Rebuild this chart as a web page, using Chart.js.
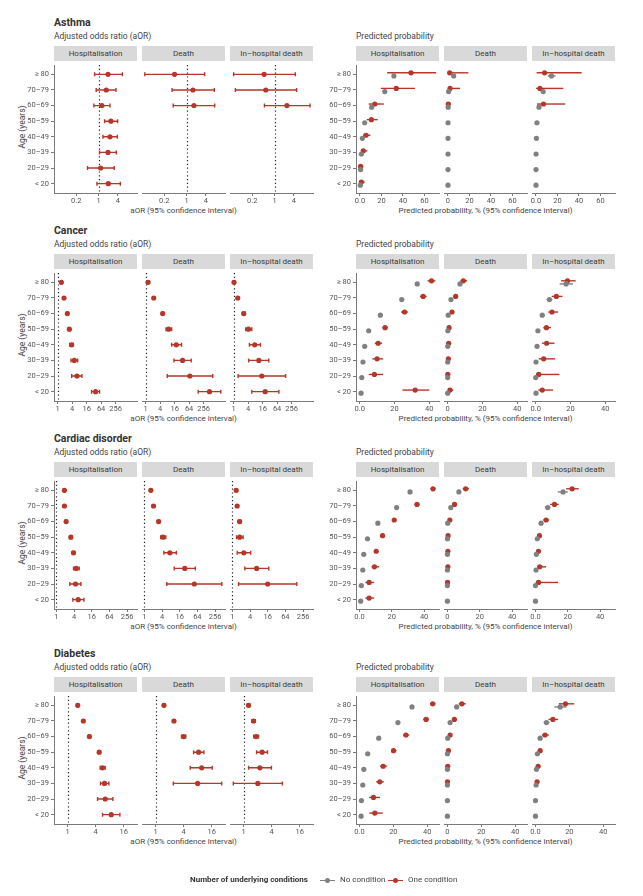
<!DOCTYPE html>
<html>
<head>
<meta charset="utf-8">
<script src="https://cdn.jsdelivr.net/npm/chart.js@4.4.1/dist/chart.umd.min.js"></script>
<style>
  body { margin: 0; background: #fff; font-family: Roboto, "Noto Sans", sans-serif; }
  #page { position: relative; width: 643px; height: 896px; overflow: hidden; }
  .txt { position: absolute; white-space: nowrap; color: #333; }
  .title { font-size: 10.5px; font-weight: bold; line-height: 14px; }
  .sub { font-size: 8.5px; line-height: 12px; color: #444; }
  .strip { position: absolute; background: #d9d9d9; color: #3a3a3a; font-size: 8px; line-height: 15px; height: 15px; text-align: center; }
  .axt { font-size: 8px; line-height: 12px; color: #444; text-align: center; }
  .key { position: absolute; height: 1.5px; }
  .dot { position: absolute; width: 5px; height: 5px; border-radius: 50%; }
</style>
</head>
<body>
<div id="page"></div>
<script>
// ---- data ----
const ages = ['≥ 80', '70–79', '60–69', '50–59', '40–49', '30–39', '20–29', '< 20'];
const outcomes = ['Hospitalisation', 'Death', 'In–hospital death'];
const conditions = ['Asthma', 'Cancer', 'Cardiac disorder', 'Diabetes'];

// adjusted odds ratios, one [estimate, lower, upper] per age group
const asthmaAorHosp = [[1.97, 0.75, 5.56], [1.74, 0.84, 3.51], [1.27, 0.71, 2.27], [2.44, 1.54, 3.96], [2.27, 1.37, 3.87], [1.97, 1.07, 3.6], [1.16, 0.45, 3.11], [2.02, 0.89, 4.8]];
const asthmaAorDeath = [[0.42, 0.049, 3.68], [1.58, 0.35, 7.4], [1.7, 0.38, 7.6], null, null, null, null, null];
const asthmaAorInhosp = [[0.47, 0.052, 4.47], [0.53, 0.059, 4.9], [2.44, 0.48, 12.9], null, null, null, null, null];

const cancerAorHosp = [[1.42, 1.32, 1.53], [1.83, 1.7, 1.97], [2.52, 2.3, 2.75], [3.05, 2.8, 3.35], [3.81, 3.15, 4.46], [4.91, 3.57, 6.76], [6.34, 3.81, 10.2], [37.8, 25.7, 55.3]];
const cancerAorDeath = [[1.25, 1.15, 1.36], [2.15, 1.95, 2.37], [5.07, 4.6, 5.6], [9.0, 7.0, 12.0], [18.7, 12.0, 31], [34.3, 15, 78.5], [69, 7.9, 621], [452, 153, 1340]];
const cancerAorInhosp = [[1.03, 0.95, 1.12], [1.47, 1.32, 1.64], [2.62, 2.3, 3.0], [4.1, 3.17, 5.65], [7.5, 4.5, 13], [11.1, 4.2, 29], [14.8, 1.52, 144], [20.4, 5.65, 76]];

const cardiacAorHosp = [[1.88, 1.75, 2.02], [1.88, 1.76, 2.01], [2.15, 1.98, 2.33], [3.11, 2.85, 3.4], [3.84, 3.5, 4.2], [4.74, 3.84, 6.0], [4.5, 2.87, 6.87], [5.56, 3.64, 8.72]];
const cardiacAorDeath = [[1.66, 1.55, 1.78], [2.05, 1.9, 2.22], [3.06, 2.8, 3.35], [4.34, 3.6, 5.36], [7.4, 4.6, 12.3], [23.9, 10.4, 54.6], [50.4, 5.8, 437], null];
const cardiacAorInhosp = [[1.35, 1.25, 1.46], [1.46, 1.35, 1.58], [1.77, 1.6, 1.95], [1.77, 1.39, 2.32], [2.45, 1.46, 4.22], [6.7, 2.66, 17.4], [16, 1.63, 157], null];

const diabetesAorHosp = [[1.65, 1.58, 1.72], [2.18, 2.1, 2.27], [2.94, 2.8, 3.1], [4.77, 4.5, 5.05], [5.63, 5.0, 6.43], [6.2, 5.1, 7.7], [6.43, 4.4, 9.4], [8.66, 5.63, 13.3]];
const diabetesAorDeath = [[1.51, 1.44, 1.58], [2.48, 2.35, 2.62], [4.0, 3.6, 4.45], [8.4, 6.55, 10.9], [9.75, 5.56, 16.5], [8.0, 2.4, 26.3], null, null];
const diabetesAorInhosp = [[1.28, 1.2, 1.36], [1.64, 1.5, 1.78], [1.86, 1.65, 2.1], [2.5, 1.9, 3.26], [2.23, 1.28, 3.96], [2.02, 0.6, 6.8], null, null];

// predicted probability (%), one condition vs no condition
const asthmaProbHospOne = [[47.5, 25.3, 70.9], [33.8, 19.4, 51.3], [13.8, 8.1, 22.2], [10.6, 6.3, 16.6], [5.6, 2.8, 9.7], [3.1, 1.3, 6.9], [0.6, 0, 3.1], [1.3, 0, 4.4]];
const asthmaProbHospNone = [[31.6, 30.5, 32.7], [23.1, 22.3, 23.9], [10.9, 10.4, 11.4], [4.4, 4.1, 4.7], [2.2, 2.0, 2.4], [1.3, 1.1, 1.4], [0.6, 0.5, 0.7], [0.3, 0.25, 0.35]];
const asthmaProbDeathOne = [[1.6, 0, 19], [1.9, 0, 11.3], [0.3, 0, 2.5], null, null, null, null, null];
const asthmaProbDeathNone = [[5.3, 4.9, 5.7], [0.6, 0.5, 0.7], [0.15, 0.1, 0.2], [0.05, 0.04, 0.06], [0.03, 0.02, 0.04], [0.02, 0.01, 0.03], [0.01, 0.01, 0.02], [0.01, 0.01, 0.02]];
const asthmaProbInhospOne = [[8, 0.6, 42.5], [3.7, 0, 25.4], [7, 0.9, 27.2], null, null, null, null, null];
const asthmaProbInhospNone = [[14.4, 11, 18.3], [6.7, 5.5, 7.9], [2.8, 2.3, 3.3], [0.9, 0.7, 1.1], [0.4, 0.3, 0.5], [0.1, 0.08, 0.12], [0.05, 0.03, 0.07], [0.03, 0.02, 0.04]];

const cancerProbHospOne = [[41.3, 39, 43.5], [36.5, 34.6, 38.5], [25.8, 23.8, 27.7], [14.6, 13.1, 16.2], [10.6, 8.7, 12.9], [10, 7.3, 13.5], [8.5, 5.2, 13.5], [31.9, 24.6, 40]];
const cancerProbHospNone = [[33.1, 32.5, 33.7], [24.2, 23.8, 24.6], [11.9, 11.6, 12.2], [5.2, 5.0, 5.4], [2.9, 2.8, 3.0], [1.9, 1.8, 2.0], [1.2, 1.1, 1.3], [0.8, 0.7, 0.9]];
const cancerProbDeathOne = [[9, 7.3, 11.2], [4.6, 3.5, 6], [2.5, 1.6, 3.6], [0.8, 0.5, 1.2], [0.6, 0.4, 0.9], [0.4, 0.2, 0.7], [0.1, 0.05, 0.4], [1.3, 0.2, 3.3]];
const cancerProbDeathNone = [[7.1, 6.0, 8.3], [1.9, 1.7, 2.1], [0.3, 0.25, 0.35], [0.1, 0.08, 0.12], [0.05, 0.04, 0.06], [0.03, 0.02, 0.04], [0.02, 0.01, 0.03], [0.02, 0.01, 0.03]];
const cancerProbInhospOne = [[18.3, 14.6, 23], [11.9, 9.2, 15.4], [9.4, 7.3, 12.9], [6.2, 4.4, 8.8], [6.3, 3.7, 10.8], [4.6, 1.7, 11.2], [1.7, 0.4, 13.7], [3.8, 1.5, 10]];
const cancerProbInhospNone = [[17.5, 13.8, 21.5], [7.9, 6.3, 9.6], [3.8, 3.0, 4.7], [1.3, 1.0, 1.6], [0.8, 0.6, 1.0], [0.2, 0.15, 0.3], [0.05, 0.03, 0.08], [0.2, 0.1, 0.3]];

const cardiacProbHospOne = [[45.5, 44, 47], [35.6, 34.1, 37.2], [21.5, 20.3, 22.9], [14.3, 13.3, 15.3], [10.4, 9, 11.6], [9.3, 7.5, 12.2], [6, 3.7, 9.1], [6, 3.7, 9.1]];
const cardiacProbHospNone = [[31.3, 30.7, 31.9], [23, 22.6, 23.4], [11.4, 11.1, 11.7], [5, 4.8, 5.2], [2.7, 2.6, 2.8], [2.1, 2.0, 2.2], [1.2, 1.1, 1.3], [0.8, 0.7, 0.9]];
const cardiacProbDeathOne = [[11.3, 9.4, 13.3], [4.4, 3.2, 5.6], [1.5, 1.1, 1.9], [0.4, 0.3, 0.5], [0.3, 0.2, 0.4], [0.3, 0.15, 0.5], [0.1, 0.05, 0.3], null];
const cardiacProbDeathNone = [[7.1, 6.5, 7.7], [2.1, 1.9, 2.3], [0.2, 0.15, 0.25], [0.05, 0.04, 0.06], [0.03, 0.02, 0.04], [0.02, 0.01, 0.03], [0.01, 0.01, 0.02], [0.01, 0.01, 0.02]];
const cardiacProbInhospOne = [[22.7, 19, 26.8], [11.8, 9.1, 14.4], [6.6, 4.9, 8.5], [2.5, 1.2, 3.7], [1.9, 1.2, 2.6], [2.7, 1.2, 6.6], [1.9, 0.2, 14], null];
const cardiacProbInhospNone = [[17.1, 13.8, 20], [7.6, 6.2, 9.2], [3.5, 3.0, 4.0], [1.2, 1.0, 1.4], [0.6, 0.5, 0.7], [0.4, 0.3, 0.5], [0.05, 0.03, 0.07], [0.05, 0.03, 0.07]];

const diabetesProbHospOne = [[43.2, 41.6, 44.8], [39.3, 37.5, 41.1], [27.4, 25.8, 29.4], [20.1, 18.7, 21.9], [14, 12.2, 16.2], [12, 9.9, 14.4], [8.3, 5.7, 12.2], [9.1, 5.9, 13.8]];
const diabetesProbHospNone = [[31, 30.5, 31.5], [22.7, 22.3, 23.1], [11.4, 11.1, 11.7], [4.9, 4.7, 5.1], [2.6, 2.5, 2.7], [2.0, 1.9, 2.1], [1.2, 1.1, 1.3], [1.0, 0.9, 1.1]];
const diabetesProbDeathOne = [[8.5, 6.7, 10.8], [4.1, 2.9, 5.5], [1.6, 1.2, 2.0], [0.6, 0.4, 0.8], [0.2, 0.1, 0.35], [0.05, 0.02, 0.2], null, null];
const diabetesProbDeathNone = [[5.5, 4.1, 6.9], [1.6, 1.4, 1.8], [0.2, 0.15, 0.25], [0.05, 0.04, 0.06], [0.03, 0.02, 0.04], [0.02, 0.01, 0.03], [0.01, 0.01, 0.02], [0.01, 0.01, 0.02]];
const diabetesProbInhospOne = [[17.7, 13.8, 22.9], [10.3, 7.7, 13.4], [5.7, 3.9, 7.9], [2.8, 1.6, 4.1], [1.6, 0.9, 2.4], [1.0, 0.5, 1.6], null, null];
const diabetesProbInhospNone = [[14.6, 11.2, 18.3], [6.5, 4.9, 8.3], [2.8, 2.3, 3.3], [1.2, 1.0, 1.4], [0.6, 0.5, 0.7], [0.4, 0.3, 0.5], [0.05, 0.03, 0.07], [0.05, 0.03, 0.07]];

// axis ticks and limits
const asthmaAorTicks = [0.2, 1, 4];
const cancerAorTicks = [1, 4, 16, 64, 256];
const cardiacAorTicks = [1, 4, 16, 64, 256];
const diabetesAorTicks = [1, 4, 16];
const asthmaProbTicks = [0, 20, 40, 60];
const otherProbTicks = [0, 20, 40];
const aorLimits = [[0.04, 16], [0.72, 2000], [0.83, 560], [0.51, 31]];
const probLimits = [[-3.7, 73.6], [-2.1, 45.6], [-2.1, 49.2], [-2.0, 46.9]];

const aorData = [
    [asthmaAorHosp, asthmaAorDeath, asthmaAorInhosp],
    [cancerAorHosp, cancerAorDeath, cancerAorInhosp],
    [cardiacAorHosp, cardiacAorDeath, cardiacAorInhosp],
    [diabetesAorHosp, diabetesAorDeath, diabetesAorInhosp]
];
const probOne = [
    [asthmaProbHospOne, asthmaProbDeathOne, asthmaProbInhospOne],
    [cancerProbHospOne, cancerProbDeathOne, cancerProbInhospOne],
    [cardiacProbHospOne, cardiacProbDeathOne, cardiacProbInhospOne],
    [diabetesProbHospOne, diabetesProbDeathOne, diabetesProbInhospOne]
];
const probNone = [
    [asthmaProbHospNone, asthmaProbDeathNone, asthmaProbInhospNone],
    [cancerProbHospNone, cancerProbDeathNone, cancerProbInhospNone],
    [cardiacProbHospNone, cardiacProbDeathNone, cardiacProbInhospNone],
    [diabetesProbHospNone, diabetesProbDeathNone, diabetesProbInhospNone]
];
const aorTicks = [asthmaAorTicks, cancerAorTicks, cardiacAorTicks, diabetesAorTicks];
const probTicks = [asthmaProbTicks, otherProbTicks, otherProbTicks, otherProbTicks];

// ---- layout ----
const RED = '#b5372b';
const GREY = '#808080';
const AXIS = '#7a7a7a';
const plotTops = [61, 269, 477, 692];
const plotH = 132;
const panelW = 83;
const aorLefts = [54, 142, 230];
const probLefts = [356, 444, 532];

Chart.defaults.font.family = 'Roboto, "Noto Sans", sans-serif';

const page = document.getElementById('page');

function addText(cls, text, left, top, extra) {
    const d = document.createElement('div');
    d.className = 'txt ' + cls;
    d.textContent = text;
    d.style.left = left + 'px';
    d.style.top = top + 'px';
    if (extra) Object.assign(d.style, extra);
    page.appendChild(d);
    return d;
}

// error bars drawn from the dataset's lo/hi through the x scale
const errorBars = {
    id: 'errorBars',
    beforeDatasetsDraw(chart) {
        const { ctx, scales: { x, y } } = chart;
        chart.data.datasets.forEach(ds => {
            ctx.save();
            ctx.strokeStyle = ds.backgroundColor;
            ctx.lineWidth = 1.4;
            ds.data.forEach(p => {
                const x0 = x.getPixelForValue(p.lo);
                const x1 = x.getPixelForValue(p.hi);
                const py = y.getPixelForValue(p.y);
                ctx.beginPath();
                ctx.moveTo(x0, py);
                ctx.lineTo(x1, py);
                if (ds.caps) {
                    ctx.moveTo(x0, py - 2);
                    ctx.lineTo(x0, py + 2);
                    ctx.moveTo(x1, py - 2);
                    ctx.lineTo(x1, py + 2);
                }
                ctx.stroke();
            });
            ctx.restore();
        });
    }
};

// dotted reference line at aOR = 1
const refLine = {
    id: 'refLine',
    beforeDatasetsDraw(chart, args, opts) {
        if (!opts.on) return;
        const { ctx, chartArea, scales: { x } } = chart;
        const px = Math.round(x.getPixelForValue(1)) + 0.5;
        ctx.save();
        ctx.strokeStyle = '#222';
        ctx.lineWidth = 1.2;
        ctx.setLineDash([1.2, 2.6]);
        ctx.beginPath();
        ctx.moveTo(px, chartArea.top);
        ctx.lineTo(px, chartArea.bottom);
        ctx.stroke();
        ctx.restore();
    }
};

function makePanel(cfg) {
    const padL = cfg.first ? 46 : 8;
    const padR = 8;
    const canvas = document.createElement('canvas');
    canvas.width = padL + panelW + padR;
    canvas.height = plotH + 22;
    canvas.style.position = 'absolute';
    canvas.style.left = (cfg.left - padL) + 'px';
    canvas.style.top = cfg.top + 'px';
    page.appendChild(canvas);

    const datasets = cfg.sets.map(s => ({
        data: s.values
            .map((t, i) => t && { x: t[0], y: i + s.shift, lo: t[1], hi: t[2] })
            .filter(Boolean),
        backgroundColor: s.color,
        borderWidth: 0,
        pointRadius: 2.6,
        caps: s.caps,
        clip: false
    }));

    new Chart(canvas, {
        type: 'scatter',
        data: { datasets },
        options: {
            responsive: false,
            animation: false,
            events: [],
            layout: { padding: { left: cfg.first ? 2 : 8, right: padR, top: 0, bottom: 0 } },
            plugins: {
                legend: { display: false },
                tooltip: { enabled: false },
                refLine: { on: cfg.ref }
            },
            scales: {
                x: {
                    type: cfg.log ? 'logarithmic' : 'linear',
                    min: cfg.limits[0],
                    max: cfg.limits[1],
                    afterBuildTicks: s => { s.ticks = cfg.ticks.map(v => ({ value: v })); },
                    afterFit: s => { s.height = 22; s.paddingLeft = 0; s.paddingRight = 0; },
                    ticks: {
                        callback: cfg.tickLabel,
                        autoSkip: false,
                        maxRotation: 0,
                        padding: 1,
                        color: '#555',
                        font: { size: 7.5 }
                    },
                    grid: { drawOnChartArea: false, tickLength: 3, color: AXIS },
                    border: { color: AXIS }
                },
                y: {
                    type: 'linear',
                    reverse: true,
                    min: -0.6,
                    max: 7.6,
                    display: cfg.first,
                    afterBuildTicks: s => { s.ticks = ages.map((a, i) => ({ value: i })); },
                    afterFit: s => { s.width = cfg.first ? 44 : 0; s.paddingTop = 0; s.paddingBottom = 0; },
                    ticks: {
                        callback: v => ages[v],
                        autoSkip: false,
                        padding: 2,
                        color: '#555',
                        font: { size: 7.5 }
                    },
                    grid: { drawOnChartArea: false, tickLength: 3, color: AXIS },
                    border: { color: AXIS }
                }
            }
        },
        plugins: [refLine, errorBars]
    });
}

conditions.forEach((cond, r) => {
    const top = plotTops[r];
    addText('title', cond, aorLefts[0], top - 45);
    addText('sub', 'Adjusted odds ratio (aOR)', aorLefts[0], top - 31.5);
    addText('sub', 'Predicted probability', probLefts[0], top - 31.5);
    addText('axt', 'aOR (95% confidence interval)', aorLefts[0], top + plotH + 12, { width: (aorLefts[2] + panelW - aorLefts[0]) + 'px' });
    addText('axt', 'Predicted probability, % (95% confidence interval)', probLefts[0], top + plotH + 12, { width: (probLefts[2] + panelW - probLefts[0]) + 'px' });
    addText('sub', 'Age (years)', 22 - 40, top + plotH / 2 - 6, { width: '80px', textAlign: 'center', transform: 'rotate(-90deg)', fontSize: '8.5px' });

    outcomes.forEach((out, c) => {
        [aorLefts[c], probLefts[c]].forEach(l => {
            const s = document.createElement('div');
            s.className = 'strip';
            s.textContent = out;
            s.style.left = l + 'px';
            s.style.top = (top - 15) + 'px';
            s.style.width = panelW + 'px';
            page.appendChild(s);
        });

        makePanel({
            left: aorLefts[c], top, first: c === 0, log: true, ref: true,
            limits: aorLimits[r], ticks: aorTicks[r],
            tickLabel: v => String(v),
            sets: [{ values: aorData[r][c], shift: 0, color: RED, caps: true }]
        });

        makePanel({
            left: probLefts[c], top, first: c === 0, log: false, ref: false,
            limits: probLimits[r], ticks: probTicks[r],
            tickLabel: v => v === 0 ? (c === 1 ? '0' : '0.0') : String(v),
            sets: [
                { values: probNone[r][c], shift: 0.1, color: GREY, caps: false },
                { values: probOne[r][c], shift: -0.1, color: RED, caps: false }
            ]
        });
    });
});

// legend
addText('title', 'Number of underlying conditions', 190, 873, { fontSize: '8px' });
[[GREY, 320, 'No condition', 340], [RED, 388, 'One condition', 408]].forEach(([col, x, label, tx]) => {
    const ln = document.createElement('div');
    ln.className = 'key';
    Object.assign(ln.style, { left: x + 'px', top: '879.5px', width: '15px', background: col });
    page.appendChild(ln);
    const dt = document.createElement('div');
    dt.className = 'dot';
    Object.assign(dt.style, { left: (x + 5) + 'px', top: '877.5px', background: col });
    page.appendChild(dt);
    addText('sub', label, tx, 874, { fontSize: '8px' });
});
</script>
</body>
</html>
